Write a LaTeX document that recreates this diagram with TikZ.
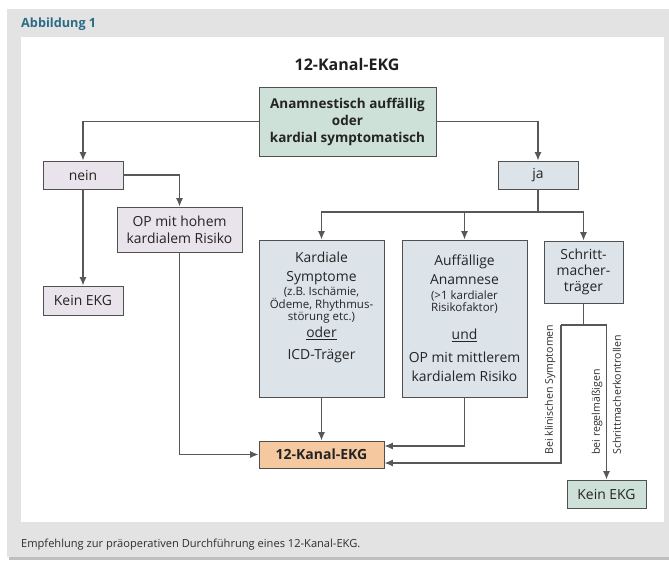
\documentclass[tikz,border=0pt]{standalone}
\usepackage{fontspec}
\setmainfont{Open Sans}
\usetikzlibrary{arrows.meta}
\definecolor{panelgray}{RGB}{227,227,227}
\definecolor{figteal}{RGB}{42,108,134}
\definecolor{framegray}{RGB}{80,80,80}
\definecolor{linegray}{RGB}{88,88,88}
\definecolor{boxgreen}{RGB}{206,225,217}
\definecolor{boxlav}{RGB}{233,227,235}
\definecolor{boxblue}{RGB}{220,228,234}
\definecolor{boxpeach}{RGB}{245,200,160}
\newcommand\klein{\fontsize{11.5}{12}\selectfont}
\begin{document}
\begin{tikzpicture}[x=1pt, y=-1pt, font=\fontsize{13.9}{19}\selectfont, >={Latex[length=8.5pt,width=7pt]},
      boxnode/.style={draw=framegray, line width=0.9pt, align=center, inner sep=0pt, text=black!86},
      greennode/.style={boxnode, fill=boxgreen},
      lavnode/.style={boxnode, fill=boxlav},
      bluenode/.style={boxnode, fill=boxblue},
      ekgnode/.style={boxnode, fill=boxpeach, font=\fontsize{14}{19}\selectfont\bfseries},
      flowline/.style={line width=1.2pt, linegray},
      flowarr/.style={flowline, ->},
      notenode/.style={font=\fontsize{10.6}{12}\selectfont, text=black!82, rotate=90, anchor=west, inner sep=0pt}]
    % panel
    \useasboundingbox (0,0) rectangle (669,564);
    \fill[black!25] (9,556) rectangle (669,559.5);
    \fill[panelgray] (7,9) rectangle (669,557);
    \fill[white] (21,37) rectangle (664,522);
    \node[anchor=west, font=\fontsize{12.7}{14}\selectfont\bfseries, text=figteal, inner sep=0pt] (fig) at (21,24) {Abbildung 1};
    \node[anchor=west, font=\fontsize{11.1}{13}\selectfont, text=black!82, inner sep=0pt] (cap) at (21,545) {Empfehlung zur präoperativen Durchführung eines 12-Kanal-EKG.};
    % boxes
    \node[font=\fontsize{16}{19}\selectfont\bfseries, text=black!88] (title) at (347,65) {12-Kanal-EKG};
    \node[greennode, minimum width=177, minimum height=69, font=\fontsize{13.5}{17}\selectfont\bfseries] (top) at (347.5,121.5) {Anamnestisch auffällig\\oder\\kardial symptomatisch};
    \node[lavnode, minimum width=80, minimum height=28] (nein) at (83,175) {nein};
    \node[lavnode, minimum width=125, minimum height=45] (ophigh) at (179.5,229.5) {OP mit hohem\\[-2pt]kardialem Risiko};
    \node[lavnode, minimum width=80, minimum height=29] (kein1) at (83,300.5) {Kein EKG};
    \node[bluenode, minimum width=80, minimum height=28] (ja) at (538,175) {ja};
    \node[bluenode, minimum width=125, minimum height=157] (kard) at (321.5,318.5) {Kardiale\\Symptome\\[-5pt]{\klein (z.B. Ischämie,}\\[-6.5pt]{\klein Ödeme, Rhythmus-}\\[-6.5pt]{\klein störung etc.)}\\[-2pt]\underline{oder}\\[3pt]ICD-Träger\\[6pt]\mbox{}};
    \node[bluenode, minimum width=125, minimum height=157] (auff) at (464.5,318.5) {Auffällige\\Anamnese\\[-4pt]{\klein (>1 kardialer}\\[-7pt]{\klein Risikofaktor)}\\[9pt]\underline{und}\\[4pt]OP mit mittlerem\\kardialem Risiko};
    \node[bluenode, minimum width=79, minimum height=62] (schritt) at (583.5,272) {Schritt-\\[-3pt]macher-\\[-3pt]träger};
    \node[ekgnode, minimum width=125, minimum height=27] (ekg) at (321.5,454.5) {12-Kanal-EKG};
    \node[greennode, minimum width=79, minimum height=28] (kein2) at (606.5,494) {Kein EKG};
    \coordinate (jasplit) at (538,212);
    \coordinate (smsplit) at (583.5,325);
    \coordinate (smleft) at (561,325);
    \coordinate (smright) at (606.5,325);
    % connectors
    \draw[flowarr] (top.west) -| (nein.north);
    \draw[flowarr] (top.east) -| (ja.north);
    \draw[flowarr] (nein.east) -| (ophigh.north);
    \draw[flowarr] (nein.south) -- (kein1.north);
    \draw[flowline] (ja.south) -- (jasplit);
    \draw[flowarr] (jasplit) -| (kard.north);
    \draw[flowarr] (jasplit) -| (auff.north);
    \draw[flowarr] (jasplit) -| (schritt.north);
    \draw[flowarr] (kard.south) -- (ekg.north);
    \draw[flowarr] (ophigh.south) |- (ekg.west);
    \draw[flowarr] (auff.south) |- ([yshift=8.5pt]ekg.east);
    \draw[flowline] (schritt.south) -- (smsplit);
    \draw[flowline] (smleft) -- (smright);
    \draw[flowarr] (smleft) |- ([yshift=-8.5pt]ekg.east);
    \draw[flowarr] (smright) -- (kein2.north);
    % notes
    \node[notenode] (klin) at (550,455) {Bei klinischen Symptomen};
    \node[notenode] (regel) at (597,455) {bei regelmäßigen};
    \node[notenode] (kontr) at (617,455) {Schrittmacherkontrollen};
  \end{tikzpicture}
\end{document}
